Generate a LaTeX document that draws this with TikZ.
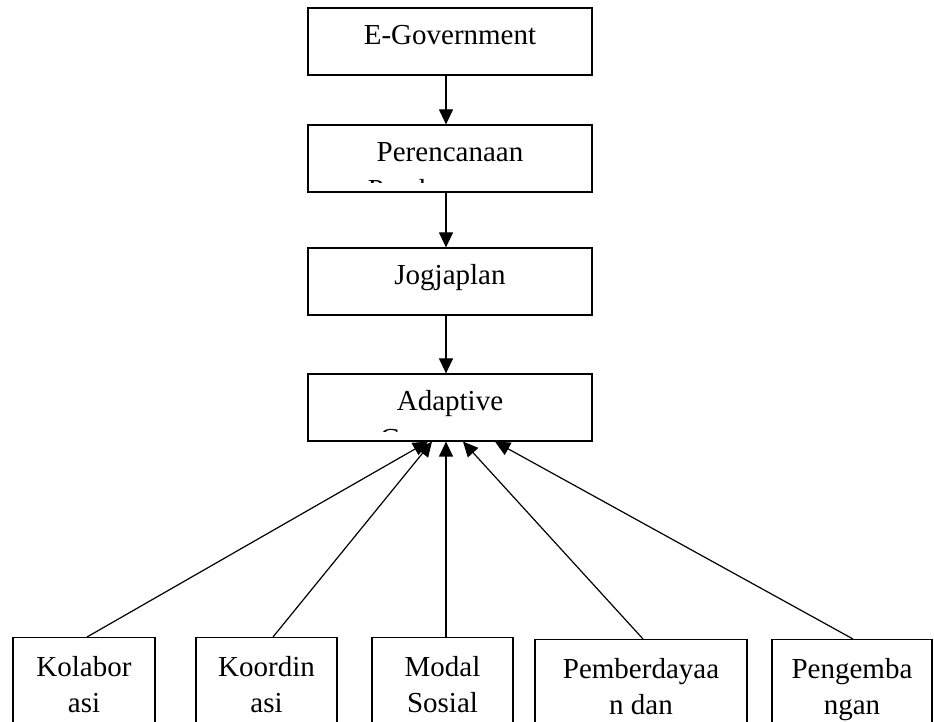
\documentclass[tikz,border=0pt]{standalone}
\usepackage{fontspec}
\setmainfont{Liberation Serif}
\usepackage{tikz}
\usetikzlibrary{arrows.meta}

\begin{document}
\begin{tikzpicture}[x=1pt,y=1pt,font=\fontsize{29}{36}\selectfont,
    box/.style={draw,line width=1.2pt,minimum width=284pt,minimum height=67pt,text height=20pt,text depth=13pt,inner sep=0pt},
    lowbox/.style={draw,line width=1.2pt,anchor=north,align=center,inner xsep=0pt,inner ysep=19pt},
    conn/.style={-{Triangle[length=15pt,width=14pt]},line width=1.2pt}]

        \useasboundingbox (0,0) rectangle (934,722);
        \clip (0,0) rectangle (934,722);

        \node[box]         (egov) at (450, 680.5)      {E-Government};
        \node[box]         (perenc) at (450, 563.5)    {Perencanaan};
        \node[box]         (jogja) at (450, 440.5)     {Jogjaplan};
        \node[box]         (adapt) at (450, 314.5)     {Adaptive};

        % second lines, cut off by the boxes
        \begin{scope}
          \clip (308, 539) rectangle (592, 597);
          \node[anchor=base]   (perencsub) at (450, 522)   {Pembangunan};
        \end{scope}
        \begin{scope}
          \clip (308, 290) rectangle (592, 348);
          \node[anchor=base]   (adaptsub) at (450, 273)    {Governance};
        \end{scope}

        \node[lowbox,minimum width=142pt]   (kolab) at (84, 85)      {Kolabor\\asi};
        \node[lowbox,minimum width=141pt]   (koord) at (266.5, 85)   {Koordin\\asi};
        \node[lowbox,minimum width=141pt]   (modal) at (442.5, 85)   {Modal\\Sosial};
        \node[lowbox,minimum width=212pt]   (berdaya) at (641, 83)   {Pemberdayaa\\n dan};
        \node[lowbox,minimum width=160pt]   (kembang) at (852, 83)   {Pengemba\\ngan};

        \draw ([xshift=-4pt]egov.south) edge[conn]  ([xshift=-4pt]perenc.north);
        \draw ([xshift=-4pt]perenc.south) edge[conn]  ([xshift=-4pt]jogja.north);
        \draw ([xshift=-4pt]jogja.south) edge[conn]  ([xshift=-4pt]adapt.north);

        \draw ([xshift=3pt]kolab.north) edge[conn]  ([xshift=-22pt]adapt.south);
        \draw ([xshift=6.5pt]koord.north) edge[conn]  ([xshift=-18pt]adapt.south);
        \draw ([xshift=3.5pt]modal.north) edge[conn]  ([xshift=-4pt]adapt.south);
        \draw ([xshift=2pt]berdaya.north) edge[conn]  ([xshift=13pt]adapt.south);
        \draw ([xshift=1pt]kembang.north) edge[conn]  ([xshift=45pt]adapt.south);
      \end{tikzpicture}
\end{document}
